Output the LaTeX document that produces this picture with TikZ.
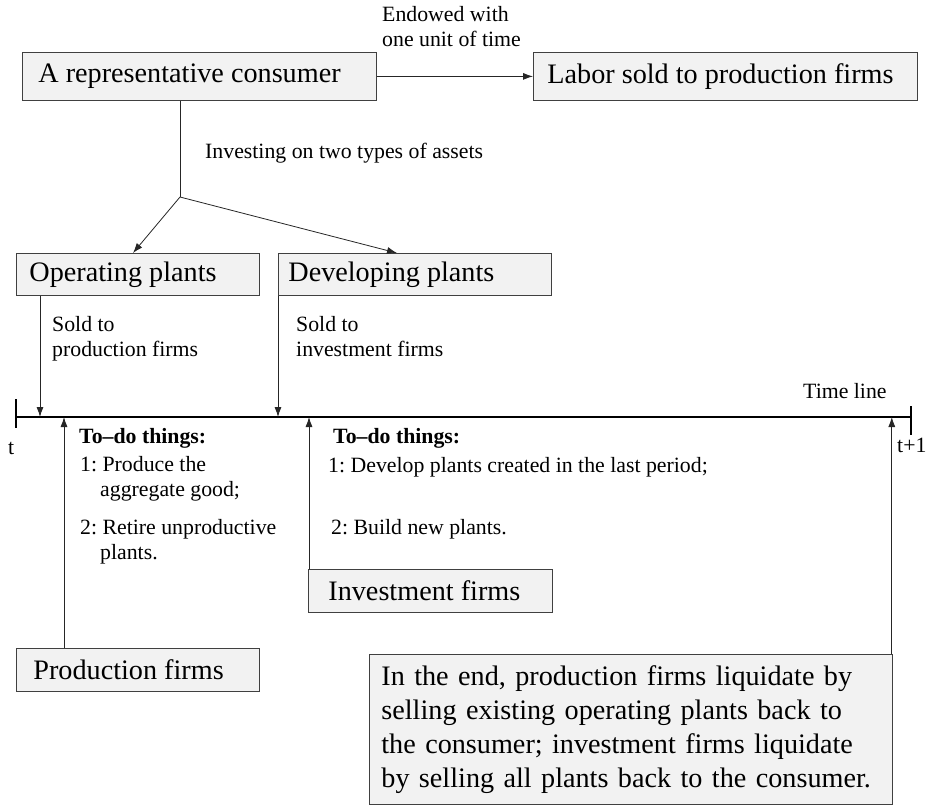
\documentclass[tikz,border=0pt]{standalone}
\usepackage{fontspec}
\setmainfont{Liberation Serif}
\usetikzlibrary{arrows.meta}
\newcommand\BigF{\fontsize{28.2}{34}\selectfont}
\newcommand\SmF{\fontsize{21.8}{24.5}\selectfont}
\newcommand\BoxTxt[2]{\makebox[#1][l]{#2}}
\frenchspacing
\begin{document}
\begin{tikzpicture}[x=1pt,y=-1pt,
  box/.style={draw=black!75, fill=black!5, line width=0.8pt, anchor=north west,
    inner ysep=0pt, font=\BigF},
  arr/.style={-{Latex[length=10pt,width=7pt]}, line width=0.8pt, draw=black!85},
  plain/.style={line width=0.8pt, draw=black!85},
  tl/.style={line width=2.4pt, draw=black},
  sm/.style={font=\SmF, inner sep=0pt, align=left, anchor=base west},
  smb/.style={font=\SmF\bfseries, inner sep=0pt, align=left, anchor=base west}
]
\useasboundingbox (0,0) rectangle (927,807);

% boxes
\node[box, inner xsep=16pt, minimum height=48pt] (cons) at (22,52) {\BoxTxt{322pt}{A representative consumer}};
\node[box, inner xsep=14pt, minimum height=48pt] (labor) at (533,52) {\BoxTxt{356pt}{Labor sold to production firms}};
\node[box, inner xsep=13pt, minimum height=42pt] (op) at (16,253) {\BoxTxt{217pt}{Operating plants}};
\node[box, inner xsep=10pt, minimum height=42pt] (dev) at (278,253) {\BoxTxt{253pt}{Developing plants}};
\node[box, inner xsep=17pt, minimum height=43pt] (prod) at (16,648) {\BoxTxt{209pt}{Production firms}};
\node[box, inner xsep=20pt, minimum height=43pt] (inv) at (308,569) {\BoxTxt{204pt}{Investment firms}};
\node[box, text width=499pt, align=left, inner xsep=12pt, minimum height=150pt] (endb) at (369,654)
  {In the end, production firms liquidate by\\selling existing operating plants back to\\the consumer; investment firms liquidate\\by selling all plants back to the consumer.};

% top connectors
\draw[arr] (cons.east) -- (labor.west);
\coordinate (br) at (180,197);
\draw[plain] ([xshift=158pt]cons.south west) -- (br);
\draw[arr] (br) -- ([xshift=117pt]op.north west);
\draw[arr] (br) -- ([xshift=119pt]dev.north west);

% time line
\coordinate (tA) at (16,417);
\coordinate (tB) at (911,417);
\draw[tl] (tA) -- (tB);
\draw[tl, line width=2pt] ([yshift=18pt]tA) -- ([yshift=-11pt]tA);
\draw[tl, line width=2pt] ([yshift=11pt]tB) -- ([yshift=-18pt]tB);

% arrows to the time line
\coordinate (opS) at ([xshift=24pt]op.south west);
\draw[arr] (opS) -- (opS |- tA);
\draw[arr] (dev.south west) -- (dev.south west |- tA);
\coordinate (prN) at ([xshift=48pt]prod.north west);
\draw[arr] (prN) -- (prN |- tA);
\coordinate (invN) at ([xshift=1pt]inv.north west);
\draw[arr] (invN) -- (invN |- tA);
\coordinate (endN) at ([xshift=-1pt]endb.north east);
\draw[arr] (endN) -- (endN |- tA);

% labels (base west = baseline of the last line)
\node[sm] (endow) at (382,46) {Endowed with\\one unit of time};
\node[sm] (invest) at (205,158) {Investing on two types of assets};
\node[sm] (soldp) at (52,356) {Sold to\\production firms};
\node[sm] (soldi) at (296,356) {Sold to\\investment firms};
\node[sm] (tline) at (803,398) {Time line};
\node[sm] (t0) at (8,454) {t};
\node[sm] (t1) at (897,452) {t+1};

\node[smb] (todoL) at (79,443) {To–do things:};
\node[sm] (l1) at (80,496) {1: Produce the\\\hspace*{20pt}aggregate good;};
\node[sm] (l2) at (80,559) {2: Retire unproductive\\\hspace*{20pt}plants.};

\node[smb] (todoR) at (333,443) {To–do things:};
\node[sm] (r1) at (328,472) {1: Develop plants created in the last period;};
\node[sm] (r2) at (331,534) {2: Build new plants.};
\end{tikzpicture}
\end{document}
